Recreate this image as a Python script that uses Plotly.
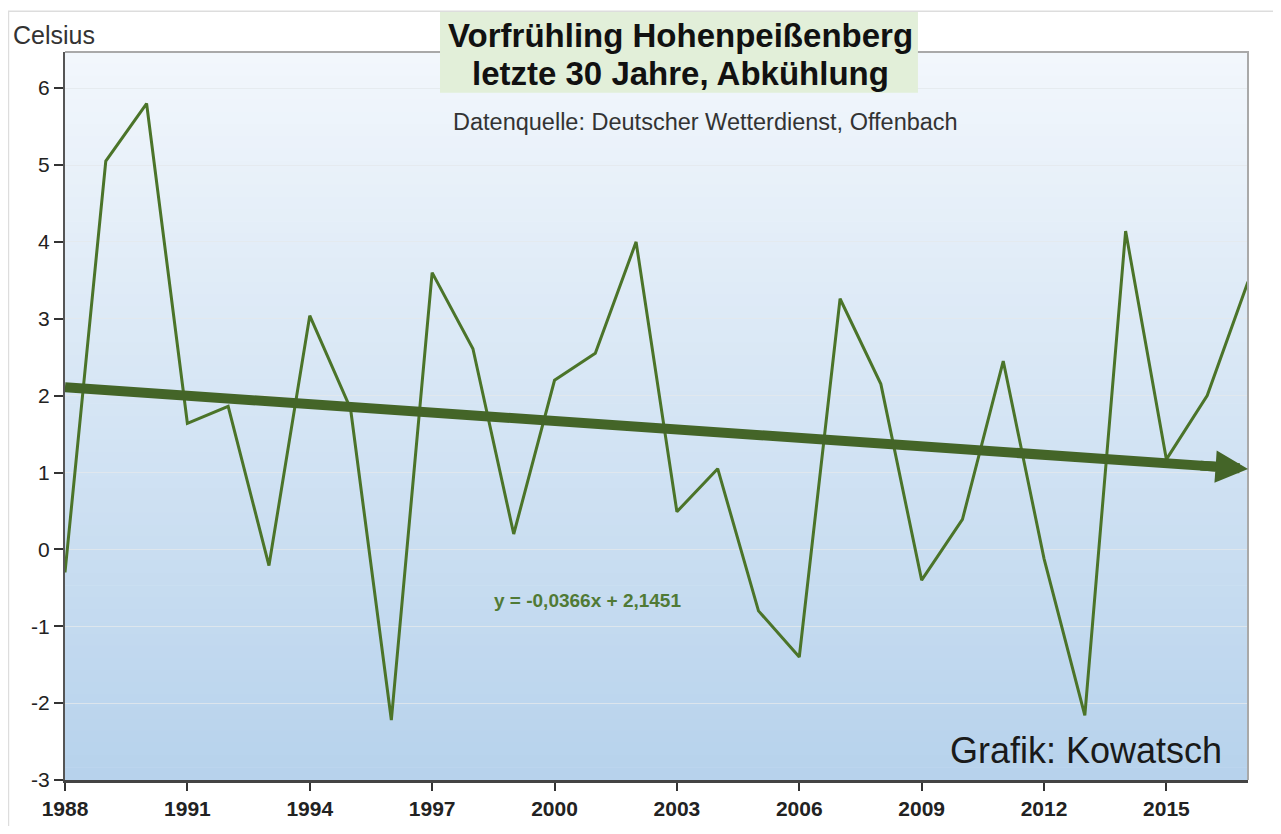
import plotly.graph_objects as go

# ---- data ----
years = list(range(1988, 2018))
temps = [-0.3, 5.05, 5.8, 1.64, 1.86, -0.21, 3.04, 1.83, -2.22, 3.6,
         2.61, 0.2, 2.2, 2.55, 4.0, 0.49, 1.05, -0.8, -1.4, 3.26,
         2.15, -0.4, 0.39, 2.45, -0.12, -2.16, 4.14, 1.17, 2.0, 3.48]
trend_slope = -0.0366
trend_intercept = 2.1451
x_ticks = list(range(1988, 2016, 3))
y_ticks = list(range(-3, 7))

def trend(year):
    return trend_slope * (year - years[0] + 1) + trend_intercept

trend_years = [1988, 2016.2]
trend_vals = [trend(y) for y in trend_years]

LINE_GREEN = "#4b7429"
TREND_GREEN = "#446528"
FONT = "Liberation Sans, Arial, sans-serif"

fig = go.Figure()

fig.add_trace(go.Scatter(x=years, y=temps, mode="lines",
                         line=dict(color=LINE_GREEN, width=3), hoverinfo="skip"))
fig.add_trace(go.Scatter(x=trend_years, y=trend_vals, mode="lines",
                         line=dict(color=TREND_GREEN, width=10), hoverinfo="skip"))

shapes = []
# gradient background
n = 60
top = (243, 247, 252)
bot = (182, 210, 236)
for i in range(n):
    t = (i + 0.5) / n
    c = tuple(int(round(top[k] + (bot[k] - top[k]) * t)) for k in range(3))
    shapes.append(dict(type="rect", xref="x domain", yref="y domain",
                       x0=0, x1=1, y0=1 - (i + 1) / n, y1=1 - i / n + 0.001,
                       fillcolor="rgb(%d,%d,%d)" % c, line=dict(width=0), layer="below"))
# top/right border
shapes.append(dict(type="path", xref="x domain", yref="y domain",
                   path="M 0,1 L 1,1 L 1,0", line=dict(color="#a9a9a9", width=2), layer="above"))
# outer light frame
shapes.append(dict(type="rect", xref="paper", yref="paper",
                   x0=-0.0478, x1=1.05, y0=-0.1, y1=1.056,
                   line=dict(color="#dddddd", width=1.5), layer="below"))
# title box
shapes.append(dict(type="rect", xref="paper", yref="paper",
                   x0=0.317, x1=0.721, y0=0.944, y1=1.055,
                   fillcolor="#e2efd9", line=dict(width=0), layer="above"))

annotations = [
    dict(text="<b>Vorfrühling Hohenpeißenberg</b>", xref="paper", yref="paper",
         x=0.52, y=1.022, showarrow=False, font=dict(family=FONT, size=33, color="#111111"),
         xanchor="center", yanchor="middle"),
    dict(text="<b>letzte 30 Jahre, Abkühlung</b>", xref="paper", yref="paper",
         x=0.52, y=0.970, showarrow=False, font=dict(family=FONT, size=33, color="#111111"),
         xanchor="center", yanchor="middle"),
    dict(text="Datenquelle: Deutscher Wetterdienst, Offenbach", xref="paper", yref="paper",
         x=0.541, y=0.904, showarrow=False, font=dict(family=FONT, size=23.5, color="#333333"),
         xanchor="center", yanchor="middle"),
    dict(text="Celsius", xref="paper", yref="paper", x=-0.046, y=1.023, showarrow=False,
         font=dict(family=FONT, size=25, color="#333333"), xanchor="left", yanchor="middle"),
    dict(text="Grafik: Kowatsch", xref="paper", yref="paper", x=0.98, y=0.041, showarrow=False,
         font=dict(family=FONT, size=36, color="#1a1a1a"), xanchor="right", yanchor="middle"),
    dict(text="<b>y = -0,0366x + 2,1451</b>", xref="x", yref="y", x=2000.8, y=-0.66,
         showarrow=False, font=dict(family=FONT, size=19, color="#507a35"),
         xanchor="center", yanchor="middle"),
    # arrow head of trend
    dict(text="", xref="x", yref="y", axref="x", ayref="y",
         x=2017, y=trend(2017), ax=2015.8, ay=trend(2015.8),
         showarrow=True, arrowhead=2, arrowsize=0.65, arrowwidth=10,
         arrowcolor=TREND_GREEN, standoff=0),
]

fig.update_layout(
    width=1265, height=818,
    margin=dict(l=57, r=25, t=44, b=46),
    paper_bgcolor="white",
    plot_bgcolor="rgba(0,0,0,0)",
    showlegend=False,
    shapes=shapes,
    annotations=annotations,
    xaxis=dict(range=[1988, 2017], tickvals=x_ticks, automargin=False,
               ticktext=["<b>%d</b>" % v for v in x_ticks],
               showgrid=False, zeroline=False, showline=True, linecolor="#444444", linewidth=3,
               ticks="outside", ticklen=8, tickwidth=2, tickcolor="#333333",
               tickfont=dict(family=FONT, size=21, color="#222222")),
    yaxis=dict(range=[-3, 6.47], tickvals=y_ticks, ticktext=[str(v) for v in y_ticks],
               automargin=False,
               showgrid=True, gridcolor="rgba(228,232,236,0.8)", gridwidth=1, zeroline=False,
               showline=True, linecolor="#555555", linewidth=2,
               ticks="outside", ticklen=9, tickwidth=2, tickcolor="#333333",
               tickfont=dict(family=FONT, size=21, color="#222222")),
)

fig.write_html("out.html")
